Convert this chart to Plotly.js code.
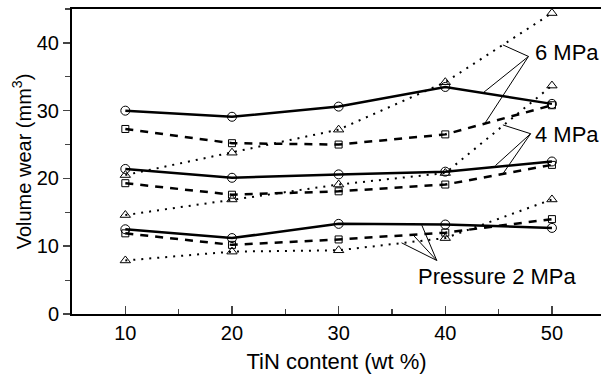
<!DOCTYPE html>
<html><head><meta charset="utf-8">
<script src="https://cdn.plot.ly/plotly-3.0.1.min.js"></script>
<style>html,body{margin:0;padding:0;background:#fff}</style>
</head><body><div id="chart" style="width:601px;height:374px"></div>
<script>
const tinContent = [10, 20, 30, 40, 50];
// 6 MPa
const p6Solid  = [30.0, 29.1, 30.6, 33.5, 31.0];
const p6Dashed = [27.3, 25.2, 25.0, 26.5, 30.8];
const p6Dotted = [20.5, 23.8, 27.2, 34.2, 44.4];
// 4 MPa
const p4Solid  = [21.4, 20.1, 20.6, 21.0, 22.5];
const p4Dashed = [19.3, 17.6, 18.1, 19.1, 22.0];
const p4Dotted = [14.6, 16.9, 19.1, 20.8, 33.7];
// 2 MPa
const p2Solid  = [12.5, 11.2, 13.3, 13.2, 12.7];
const p2Dashed = [11.9, 10.2, 11.0, 12.0, 14.0];
const p2Dotted = [7.9, 9.2, 9.4, 11.2, 16.9];

const labels = ['6 MPa', '4 MPa', 'Pressure 2 MPa'];

const solidStyle  = {line:{color:'#000', width:2.5, dash:'solid'}, marker:{symbol:'circle-open', size:9, color:'#000', line:{width:1}}};
const dashedStyle = {line:{color:'#000', width:2.5, dash:'8px,7px'}, marker:{symbol:'square-open', size:7, color:'#000', line:{width:1}}};
const dottedStyle = {line:{color:'#000', width:2, dash:'2px,6px'}, marker:{symbol:'triangle-up-open', size:9, color:'#000', line:{width:1}}};

function tr(y, st){ return Object.assign({x: tinContent, y: y, type:'scatter', mode:'lines+markers', showlegend:false, hoverinfo:'skip'}, JSON.parse(JSON.stringify(st))); }

const data = [
  tr(p6Dotted, dottedStyle), tr(p6Dashed, dashedStyle), tr(p6Solid, solidStyle),
  tr(p4Dotted, dottedStyle), tr(p4Dashed, dashedStyle), tr(p4Solid, solidStyle),
  tr(p2Dotted, dottedStyle), tr(p2Dashed, dashedStyle), tr(p2Solid, solidStyle)
];

const leader = {type:'line', xref:'x', yref:'y', line:{color:'#000', width:1}};
function L(x0,y0,x1,y1){ return Object.assign({x0:x0,y0:y0,x1:x1,y1:y1}, JSON.parse(JSON.stringify(leader))); }

const shapes = [
  // 6 MPa leaders
  L(47.8, 38.0, 45.4, 39.7), L(47.8, 38.0, 43.6, 32.7), L(47.8, 38.0, 43.7, 28.1),
  // 4 MPa leaders
  L(48.0, 26.6, 45.4, 27.9), L(48.0, 26.6, 44.7, 21.9), L(48.0, 26.6, 45.45, 20.8),
  // 2 MPa leaders
  L(39.2, 7.9, 37.8, 13.1), L(39.2, 7.9, 36.9, 11.8), L(39.2, 7.9, 35.9, 10.5)
];

const annFont = {family:'Liberation Sans, Arial, sans-serif', size:22, color:'#000'};
const annotations = [
  {x:48.2, y:38.6, text:labels[0], xanchor:'left', yanchor:'middle', showarrow:false, font:annFont},
  {x:48.2, y:26.5, text:labels[1], xanchor:'left', yanchor:'middle', showarrow:false, font:annFont},
  {x:37.3, y:5.6, text:labels[2], xanchor:'left', yanchor:'middle', showarrow:false, font:annFont}
];

const layout = {
  width:601, height:374,
  margin:{l:72, r:0, t:9, b:60},
  paper_bgcolor:'#fff', plot_bgcolor:'#fff',
  font:{family:'Liberation Sans, Arial, sans-serif', size:20, color:'#000'},
  xaxis:{range:[5,54.6], tick0:10, dtick:10, ticks:'inside', ticklen:8, tickwidth:1.5,
         minor:{dtick:5, tick0:5, ticks:'inside', ticklen:5, tickwidth:1.2, showgrid:false},
         showline:true, linewidth:2, linecolor:'#000', mirror:true, showgrid:false, zeroline:false,
         title:{text:'TiN content (wt %)', font:{size:22}, standoff:11}, fixedrange:true},
  yaxis:{range:[0,45], tick0:0, dtick:10, ticks:'outside', ticklen:7, tickwidth:1.5,
         minor:{dtick:5, ticks:'outside', ticklen:5, tickwidth:1.2, showgrid:false},
         showline:true, linewidth:2, linecolor:'#000', mirror:false, showgrid:false, zeroline:false,
         title:{text:'Volume wear (mm<sup>3</sup>)', font:{size:20}, standoff:0}, fixedrange:true},
  shapes: shapes,
  annotations: annotations
};

Plotly.newPlot('chart', data, layout, {displayModeBar:false, staticPlot:true});
</script></body></html>
